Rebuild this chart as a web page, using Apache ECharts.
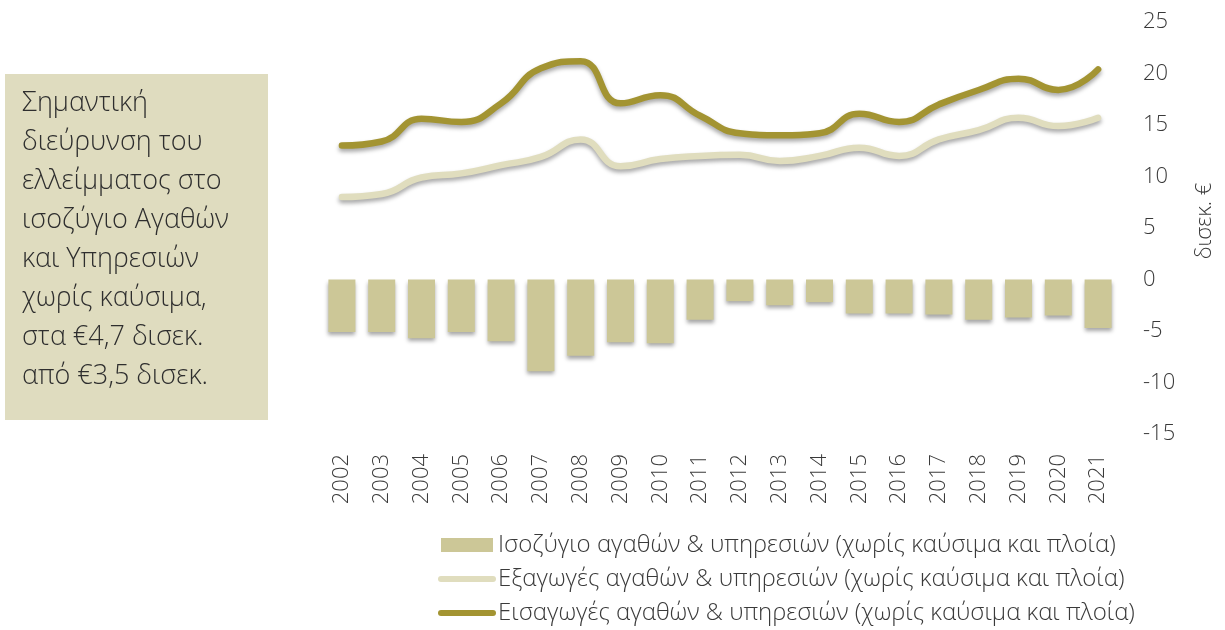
<!DOCTYPE html>
<html>
<head>
<meta charset="utf-8">
<script src="https://cdn.jsdelivr.net/npm/echarts@6/dist/echarts.min.js"></script>
<style>
  html, body { margin: 0; padding: 0; background: #ffffff; }
  #chart { width: 1225px; height: 630px; }
</style>
</head>
<body>
<div id="chart"></div>
<script>
// Years on the category axis
const years = ['2002','2003','2004','2005','2006','2007','2008','2009','2010','2011',
               '2012','2013','2014','2015','2016','2017','2018','2019','2020','2021'];

// Balance of goods & services, excluding fuel and ships (bn €)
const balance = [-5.1, -5.1, -5.7, -5.1, -6.0, -8.9, -7.4, -6.1, -6.2, -3.9,
                 -2.1, -2.5, -2.2, -3.3, -3.3, -3.4, -3.9, -3.7, -3.5, -4.7];

// Exports of goods & services, excluding fuel and ships (bn €)
const exportsVals = [8.0, 8.3, 9.9, 10.3, 11.1, 11.9, 13.6, 11.0, 11.7, 12.0,
                     12.1, 11.5, 12.0, 12.8, 12.0, 13.6, 14.5, 15.7, 14.9, 15.7];

// Imports of goods & services, excluding fuel and ships (bn €)
const importsVals = [13.0, 13.4, 15.6, 15.3, 17.1, 20.5, 21.2, 17.1, 17.9, 15.9,
                     14.2, 14.0, 14.2, 16.1, 15.3, 17.0, 18.4, 19.5, 18.4, 20.4];

const seriesNames = [
  'Ισοζύγιο αγαθών & υπηρεσιών (χωρίς καύσιμα και πλοία)',
  'Εξαγωγές αγαθών & υπηρεσιών (χωρίς καύσιμα και πλοία)',
  'Εισαγωγές αγαθών & υπηρεσιών (χωρίς καύσιμα και πλοία)'
];

const noteLines = [
  'Σημαντική',
  'διεύρυνση του',
  'ελλείμματος στο',
  'ισοζύγιο Αγαθών',
  'και Υπηρεσιών',
  'χωρίς καύσιμα,',
  'στα €4,7 δισεκ.',
  'από €3,5 δισεκ.'
];

const FONT = '"Open Sans", "Noto Sans", sans-serif';
const TEXT = '#3a3a3a';
const EXPORT_COLOR = '#E0DDBE';
const IMPORT_COLOR = '#A39432';
const BAR_COLOR = '#CCC797';
const shadow = { shadowColor: 'rgba(0,0,0,0.35)', shadowBlur: 4, shadowOffsetY: 3 };

const chart = echarts.init(document.getElementById('chart'), null, { renderer: 'canvas' });

chart.setOption({
  backgroundColor: '#ffffff',
  animation: false,
  textStyle: { fontFamily: FONT, color: TEXT },
  grid: { left: 322, right: 107, top: 22, bottom: 196 },
  legend: {
    orient: 'vertical',
    left: 438,
    top: 533,
    padding: 0,
    itemGap: 10,
    itemWidth: 52,
    itemHeight: 14,
    textStyle: { fontFamily: FONT, fontSize: 24, fontWeight: 300, color: TEXT },
    data: [
      { name: seriesNames[0], icon: 'rect' },
      {
        name: seriesNames[1],
        itemStyle: { opacity: 0 },
        lineStyle: { width: 6, cap: 'round', color: EXPORT_COLOR, shadowBlur: 0, shadowOffsetY: 0 }
      },
      {
        name: seriesNames[2],
        itemStyle: { opacity: 0 },
        lineStyle: { width: 6, cap: 'round', color: IMPORT_COLOR, shadowBlur: 0, shadowOffsetY: 0 }
      }
    ]
  },
  xAxis: {
    type: 'category',
    data: years,
    axisLine: { show: false },
    axisTick: { show: false },
    axisLabel: {
      rotate: 90,
      margin: 20,
      fontFamily: FONT,
      fontSize: 22,
      fontWeight: 300,
      color: TEXT
    }
  },
  yAxis: {
    type: 'value',
    position: 'right',
    min: -15,
    max: 25,
    interval: 5,
    splitLine: { show: false },
    axisLine: { show: false },
    axisTick: { show: false },
    axisLabel: {
      margin: 25,
      align: 'left',
      fontFamily: FONT,
      fontSize: 22,
      fontWeight: 300,
      color: TEXT
    },
    name: 'δισεκ. €',
    nameLocation: 'middle',
    nameRotate: 90,
    nameGap: 76,
    nameTextStyle: { fontFamily: FONT, fontSize: 22, fontWeight: 300, color: TEXT, padding: [0, 0, 0, 14] }
  },
  series: [
    {
      name: seriesNames[0],
      type: 'bar',
      data: balance,
      barWidth: 27,
      itemStyle: Object.assign({ color: BAR_COLOR }, shadow)
    },
    {
      name: seriesNames[1],
      type: 'line',
      data: exportsVals,
      smooth: 0.5,
      symbol: 'none',
      itemStyle: { color: EXPORT_COLOR },
      lineStyle: Object.assign({ color: EXPORT_COLOR, width: 6.5, cap: 'round' }, shadow)
    },
    {
      name: seriesNames[2],
      type: 'line',
      data: importsVals,
      smooth: 0.5,
      symbol: 'none',
      itemStyle: { color: IMPORT_COLOR },
      lineStyle: Object.assign({ color: IMPORT_COLOR, width: 6.5, cap: 'round' }, shadow)
    }
  ],
  graphic: [
    {
      type: 'rect',
      left: 5,
      top: 74,
      shape: { width: 263, height: 346 },
      style: { fill: '#DFDCBF' },
      silent: true
    },
    {
      type: 'text',
      left: 22,
      top: 84,
      style: {
        text: noteLines.join('\n'),
        fontFamily: FONT,
        fontSize: 27,
        fontWeight: 300,
        lineHeight: 39,
        fill: '#2e2e2e'
      },
      silent: true
    }
  ]
});
</script>
</body>
</html>
